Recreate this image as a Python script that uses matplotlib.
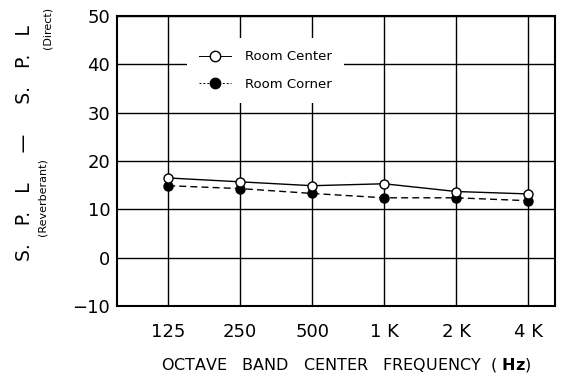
import numpy as np
import matplotlib
matplotlib.use("Agg")
import matplotlib.pyplot as plt

# octave band centre frequencies and S.P.L difference (reverberant - direct), dB
bands = ["125", "250", "500", "1 K", "2 K", "4 K"]
room_center = [16.5, 15.7, 14.9, 15.3, 13.7, 13.2]
room_corner = [14.9, 14.3, 13.3, 12.4, 12.4, 11.8]
yticks = [-10, 0, 10, 20, 30, 40, 50]

plt.rcParams['font.family'] = ['DejaVu Sans']

fig = plt.figure(figsize=(5.63, 3.78), dpi=100)
ax = fig.add_axes([0.208, 0.190, 0.778, 0.768])

x = np.arange(len(bands))

ax.plot(x, room_corner, color='k', lw=1.0, ls=(0, (5, 3)), marker='o',
        ms=6.5, mfc='k', mec='k', label='Room Corner', zorder=3)
ax.plot(x, room_center, color='k', lw=1.0, ls='-', marker='o',
        ms=6.5, mfc='w', mec='k', mew=1.0, label='Room Center', zorder=4)

ax.set_xlim(-0.71, 5.375)
ax.set_ylim(-10, 50)
ax.set_xticks(x)
ax.set_xticklabels(bands)
ax.set_yticks(yticks)
ax.grid(True, color='k', lw=1.0)
ax.set_axisbelow(True)
for s in ax.spines.values():
    s.set_linewidth(1.5)
ax.tick_params(axis='both', length=0, labelsize=13)
ax.tick_params(axis='x', pad=12)
ax.tick_params(axis='y', pad=5)

# legend: center first, corner second
h, l = ax.get_legend_handles_labels()
leg = ax.legend(h[::-1], l[::-1], loc='upper left', bbox_to_anchor=(0.145, 0.945),
                fontsize=9.5, handlelength=2.4, labelspacing=1.1, borderpad=0.9,
                handletextpad=1.1, frameon=True, fancybox=False,
                edgecolor='none', facecolor='w', framealpha=1, markerscale=1.15)
leg.get_lines()[1].set_linestyle((0, (2, 2)))
leg.get_lines()[1].set_linewidth(0.7)
leg.get_lines()[0].set_linewidth(0.7)

fig.text(0.615, 0.034, "OCTAVE   BAND   CENTER   FREQUENCY  ( $\\mathbf{Hz}$)",
         ha='center', va='center', fontsize=11.5, color='k')

# y label pieces
fig.text(0.044, 0.622, "S.   P.   L     \u2014     S.   P.   L", rotation=90,
         ha='center', va='center', fontsize=13.5, color='k')
fig.text(0.076, 0.479, "(Reverberant)", rotation=90, ha='center', va='center', fontsize=8)
fig.text(0.085, 0.925, "(Direct)", rotation=90, ha='center', va='center', fontsize=8)

fig.savefig("out.png", dpi=100)
